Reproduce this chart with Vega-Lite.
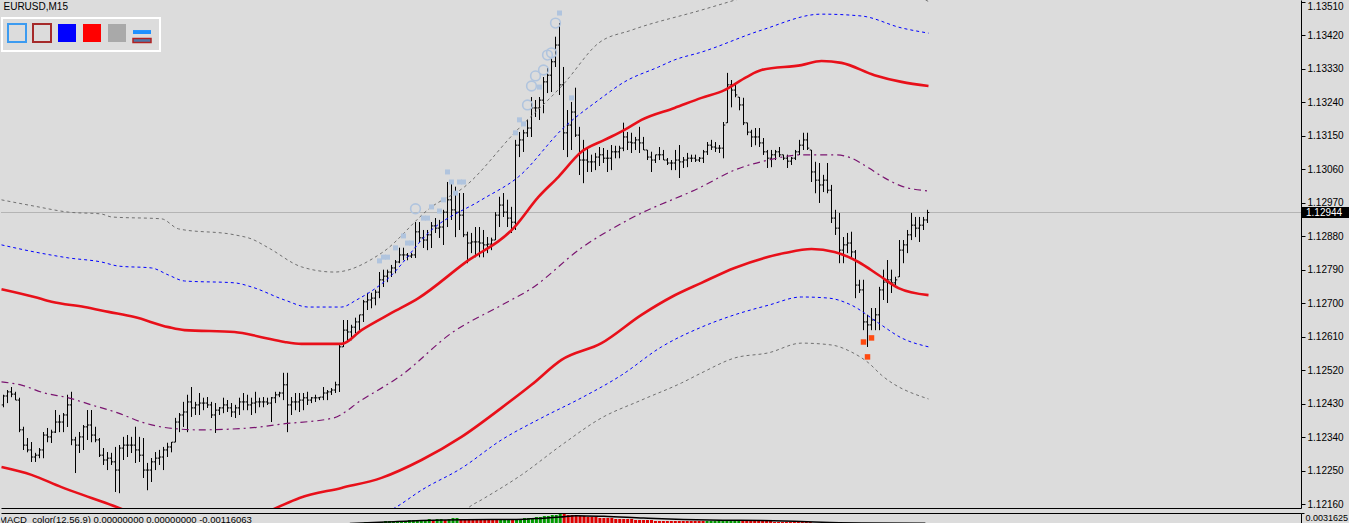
{
"$schema":"https://vega.github.io/schema/vega-lite/v6.json",
"background":"#DCDCDC",
"padding":0,
"spacing":2,
"config":{"view":{"stroke":null},"axis":{"labelFont":"Liberation Sans","labelOverlap":false}},
"datasets":{
"bars":[
{"i":0,"o":1.12427,"h":1.12454,"l":1.12421,"c":1.12451},{"i":1,"o":1.12451,"h":1.12467,"l":1.12432,"c":1.12462},{"i":2,"o":1.12462,"h":1.12475,"l":1.12448,"c":1.12456},{"i":3,"o":1.12456,"h":1.12462,"l":1.1244,"c":1.1244},{"i":4,"o":1.1244,"h":1.12446,"l":1.12354,"c":1.1236},{"i":5,"o":1.1236,"h":1.12368,"l":1.12306,"c":1.12319},{"i":6,"o":1.12319,"h":1.12338,"l":1.123,"c":1.12306},{"i":7,"o":1.12306,"h":1.12327,"l":1.12274,"c":1.12287},{"i":8,"o":1.12287,"h":1.12298,"l":1.12274,"c":1.12292},{"i":9,"o":1.12292,"h":1.12311,"l":1.12284,"c":1.12306},
{"i":10,"o":1.12306,"h":1.12354,"l":1.12284,"c":1.12346},{"i":11,"o":1.12346,"h":1.12365,"l":1.12327,"c":1.12341},{"i":12,"o":1.12341,"h":1.1236,"l":1.12325,"c":1.12354},{"i":13,"o":1.12354,"h":1.12413,"l":1.12352,"c":1.12381},{"i":14,"o":1.12381,"h":1.124,"l":1.12354,"c":1.12381},{"i":15,"o":1.12381,"h":1.12405,"l":1.12354,"c":1.124},{"i":16,"o":1.124,"h":1.12454,"l":1.12368,"c":1.12427},{"i":17,"o":1.12427,"h":1.12462,"l":1.12319,"c":1.12333},{"i":18,"o":1.12333,"h":1.12341,"l":1.12244,"c":1.12319},{"i":19,"o":1.12319,"h":1.12354,"l":1.12298,"c":1.12341},
{"i":20,"o":1.12341,"h":1.12373,"l":1.12306,"c":1.12368},{"i":21,"o":1.12368,"h":1.12413,"l":1.12333,"c":1.12373},{"i":22,"o":1.12373,"h":1.12413,"l":1.12327,"c":1.12346},{"i":23,"o":1.12346,"h":1.12368,"l":1.12327,"c":1.12333},{"i":24,"o":1.12333,"h":1.12338,"l":1.12287,"c":1.12292},{"i":25,"o":1.12292,"h":1.12311,"l":1.12266,"c":1.12279},{"i":26,"o":1.12279,"h":1.123,"l":1.12252,"c":1.12284},{"i":27,"o":1.12284,"h":1.12298,"l":1.12266,"c":1.12274},{"i":28,"o":1.12274,"h":1.12314,"l":1.12193,"c":1.12252},{"i":29,"o":1.12252,"h":1.12319,"l":1.1219,"c":1.12311},
{"i":30,"o":1.12311,"h":1.12341,"l":1.12279,"c":1.12319},{"i":31,"o":1.12319,"h":1.12346,"l":1.12287,"c":1.12319},{"i":32,"o":1.12319,"h":1.12341,"l":1.12298,"c":1.12319},{"i":33,"o":1.12319,"h":1.12368,"l":1.12271,"c":1.12306},{"i":34,"o":1.12306,"h":1.12341,"l":1.12274,"c":1.12292},{"i":35,"o":1.12292,"h":1.12338,"l":1.12231,"c":1.12252},{"i":36,"o":1.12252,"h":1.12271,"l":1.12198,"c":1.12252},{"i":37,"o":1.12252,"h":1.12284,"l":1.1222,"c":1.12274},{"i":38,"o":1.12274,"h":1.123,"l":1.12252,"c":1.12284},{"i":39,"o":1.12284,"h":1.12306,"l":1.12266,"c":1.12287},
{"i":40,"o":1.12287,"h":1.12314,"l":1.12252,"c":1.12306},{"i":41,"o":1.12306,"h":1.12325,"l":1.12287,"c":1.12314},{"i":42,"o":1.12314,"h":1.12327,"l":1.123,"c":1.12327},{"i":43,"o":1.12327,"h":1.12392,"l":1.12327,"c":1.12381},{"i":44,"o":1.12381,"h":1.12405,"l":1.12354,"c":1.124},{"i":45,"o":1.124,"h":1.12435,"l":1.12368,"c":1.12408},{"i":46,"o":1.12408,"h":1.12454,"l":1.12354,"c":1.12435},{"i":47,"o":1.12435,"h":1.12475,"l":1.12395,"c":1.12419},{"i":48,"o":1.12419,"h":1.12435,"l":1.124,"c":1.12427},{"i":49,"o":1.12427,"h":1.12459,"l":1.124,"c":1.12432},
{"i":50,"o":1.12432,"h":1.12446,"l":1.12413,"c":1.12432},{"i":51,"o":1.12432,"h":1.12448,"l":1.12419,"c":1.12427},{"i":52,"o":1.12427,"h":1.12435,"l":1.12392,"c":1.124},{"i":53,"o":1.124,"h":1.12432,"l":1.12352,"c":1.12413},{"i":54,"o":1.12413,"h":1.12421,"l":1.124,"c":1.12419},{"i":55,"o":1.12419,"h":1.12446,"l":1.12405,"c":1.12427},{"i":56,"o":1.12427,"h":1.1244,"l":1.12408,"c":1.12419},{"i":57,"o":1.12419,"h":1.12432,"l":1.12395,"c":1.12408},{"i":58,"o":1.12408,"h":1.12427,"l":1.12392,"c":1.12419},{"i":59,"o":1.12419,"h":1.12446,"l":1.124,"c":1.12435},
{"i":60,"o":1.12435,"h":1.12459,"l":1.12413,"c":1.12435},{"i":61,"o":1.12435,"h":1.12454,"l":1.12413,"c":1.12427},{"i":62,"o":1.12427,"h":1.12446,"l":1.124,"c":1.12432},{"i":63,"o":1.12432,"h":1.12462,"l":1.12405,"c":1.12435},{"i":64,"o":1.12435,"h":1.12446,"l":1.12421,"c":1.12435},{"i":65,"o":1.12435,"h":1.12448,"l":1.12421,"c":1.12435},{"i":66,"o":1.12435,"h":1.12446,"l":1.12427,"c":1.12432},{"i":67,"o":1.12432,"h":1.12448,"l":1.12381,"c":1.12446},{"i":68,"o":1.12446,"h":1.12462,"l":1.12432,"c":1.12454},{"i":69,"o":1.12454,"h":1.12462,"l":1.12448,"c":1.12459},
{"i":70,"o":1.12459,"h":1.12513,"l":1.1244,"c":1.12481},{"i":71,"o":1.12481,"h":1.12513,"l":1.12354,"c":1.12427},{"i":72,"o":1.12427,"h":1.12448,"l":1.124,"c":1.12435},{"i":73,"o":1.12435,"h":1.12459,"l":1.12413,"c":1.12435},{"i":74,"o":1.12435,"h":1.12459,"l":1.12408,"c":1.1244},{"i":75,"o":1.1244,"h":1.12459,"l":1.12413,"c":1.12446},{"i":76,"o":1.12446,"h":1.12462,"l":1.12427,"c":1.1244},{"i":77,"o":1.1244,"h":1.12448,"l":1.12432,"c":1.12446},{"i":78,"o":1.12446,"h":1.12454,"l":1.12435,"c":1.12446},{"i":79,"o":1.12446,"h":1.12448,"l":1.1244,"c":1.12448},
{"i":80,"o":1.12448,"h":1.12475,"l":1.1244,"c":1.12459},{"i":81,"o":1.12459,"h":1.12467,"l":1.1244,"c":1.12462},{"i":82,"o":1.12462,"h":1.12472,"l":1.12454,"c":1.12467},{"i":83,"o":1.12467,"h":1.12489,"l":1.12459,"c":1.12481},{"i":84,"o":1.12481,"h":1.12588,"l":1.12462,"c":1.12583},{"i":85,"o":1.12583,"h":1.12655,"l":1.12583,"c":1.12628},{"i":86,"o":1.12628,"h":1.12655,"l":1.12601,"c":1.12623},{"i":87,"o":1.12623,"h":1.12642,"l":1.12601,"c":1.12636},{"i":88,"o":1.12636,"h":1.12661,"l":1.1262,"c":1.1265},{"i":89,"o":1.1265,"h":1.12669,"l":1.12628,"c":1.12669},
{"i":90,"o":1.12669,"h":1.12709,"l":1.1265,"c":1.12704},{"i":91,"o":1.12704,"h":1.12728,"l":1.12682,"c":1.12709},{"i":92,"o":1.12709,"h":1.12728,"l":1.12687,"c":1.12714},{"i":93,"o":1.12714,"h":1.12736,"l":1.12695,"c":1.1273},{"i":94,"o":1.1273,"h":1.12784,"l":1.12714,"c":1.12763},{"i":95,"o":1.12763,"h":1.1279,"l":1.12744,"c":1.12773},{"i":96,"o":1.12773,"h":1.1279,"l":1.12757,"c":1.12784},{"i":97,"o":1.12784,"h":1.12803,"l":1.12771,"c":1.12795},{"i":98,"o":1.12795,"h":1.12816,"l":1.12781,"c":1.12811},{"i":99,"o":1.12811,"h":1.12849,"l":1.12808,"c":1.1283},
{"i":100,"o":1.1283,"h":1.12849,"l":1.12816,"c":1.1283},{"i":101,"o":1.1283,"h":1.12835,"l":1.12816,"c":1.12827},{"i":102,"o":1.12827,"h":1.12835,"l":1.12822,"c":1.1283},{"i":103,"o":1.1283,"h":1.12918,"l":1.12822,"c":1.12892},{"i":104,"o":1.12892,"h":1.12918,"l":1.12865,"c":1.12876},{"i":105,"o":1.12876,"h":1.12897,"l":1.12849,"c":1.1287},{"i":106,"o":1.1287,"h":1.12897,"l":1.12843,"c":1.12884},{"i":107,"o":1.12884,"h":1.12918,"l":1.12849,"c":1.12908},{"i":108,"o":1.12908,"h":1.12929,"l":1.12889,"c":1.12902},{"i":109,"o":1.12902,"h":1.12924,"l":1.12876,"c":1.12905},
{"i":110,"o":1.12905,"h":1.12951,"l":1.12857,"c":1.12945},{"i":111,"o":1.12945,"h":1.13026,"l":1.12905,"c":1.12978},{"i":112,"o":1.12978,"h":1.13026,"l":1.12924,"c":1.12951},{"i":113,"o":1.12951,"h":1.13013,"l":1.12878,"c":1.12945},{"i":114,"o":1.12945,"h":1.12996,"l":1.12897,"c":1.12937},{"i":115,"o":1.12937,"h":1.12996,"l":1.12878,"c":1.12884},{"i":116,"o":1.12884,"h":1.12892,"l":1.12808,"c":1.12862},{"i":117,"o":1.12862,"h":1.12889,"l":1.12835,"c":1.12865},{"i":118,"o":1.12865,"h":1.12905,"l":1.12824,"c":1.12865},{"i":119,"o":1.12865,"h":1.12905,"l":1.12824,"c":1.12862},
{"i":120,"o":1.12862,"h":1.12897,"l":1.12824,"c":1.12857},{"i":121,"o":1.12857,"h":1.12878,"l":1.12835,"c":1.12859},{"i":122,"o":1.12859,"h":1.12876,"l":1.12843,"c":1.1287},{"i":123,"o":1.1287,"h":1.12945,"l":1.1287,"c":1.12937},{"i":124,"o":1.12937,"h":1.12986,"l":1.12905,"c":1.12964},{"i":125,"o":1.12964,"h":1.12996,"l":1.12932,"c":1.12945},{"i":126,"o":1.12945,"h":1.12978,"l":1.12905,"c":1.12929},{"i":127,"o":1.12929,"h":1.12959,"l":1.12889,"c":1.12918},{"i":128,"o":1.12918,"h":1.13139,"l":1.12897,"c":1.13125},{"i":129,"o":1.13125,"h":1.1316,"l":1.13093,"c":1.13139},
{"i":130,"o":1.13139,"h":1.13166,"l":1.13107,"c":1.13158},{"i":131,"o":1.13158,"h":1.13193,"l":1.13147,"c":1.13171},{"i":132,"o":1.13171,"h":1.13254,"l":1.13147,"c":1.13225},{"i":133,"o":1.13225,"h":1.13246,"l":1.13201,"c":1.13225},{"i":134,"o":1.13225,"h":1.13254,"l":1.13193,"c":1.13246},{"i":135,"o":1.13246,"h":1.13308,"l":1.13211,"c":1.13295},{"i":136,"o":1.13295,"h":1.13332,"l":1.13265,"c":1.13313},{"i":137,"o":1.13313,"h":1.13359,"l":1.13268,"c":1.13349},{"i":138,"o":1.13349,"h":1.13416,"l":1.13335,"c":1.13394},{"i":139,"o":1.13394,"h":1.13453,"l":1.1326,"c":1.13287},
{"i":140,"o":1.13287,"h":1.13335,"l":1.13112,"c":1.13158},{"i":141,"o":1.13158,"h":1.13219,"l":1.13093,"c":1.13179},{"i":142,"o":1.13179,"h":1.13241,"l":1.13112,"c":1.13214},{"i":143,"o":1.13214,"h":1.13279,"l":1.13147,"c":1.13152},{"i":144,"o":1.13152,"h":1.13174,"l":1.13045,"c":1.13085},{"i":145,"o":1.13085,"h":1.13139,"l":1.13023,"c":1.13085},{"i":146,"o":1.13085,"h":1.1312,"l":1.13053,"c":1.1308},{"i":147,"o":1.1308,"h":1.13099,"l":1.13053,"c":1.1308},{"i":148,"o":1.1308,"h":1.13104,"l":1.13058,"c":1.13093},{"i":149,"o":1.13093,"h":1.1312,"l":1.13069,"c":1.13099},
{"i":150,"o":1.13099,"h":1.13117,"l":1.13077,"c":1.1309},{"i":151,"o":1.1309,"h":1.13112,"l":1.13053,"c":1.1309},{"i":152,"o":1.1309,"h":1.13125,"l":1.13058,"c":1.13107},{"i":153,"o":1.13107,"h":1.13123,"l":1.1309,"c":1.13107},{"i":154,"o":1.13107,"h":1.13123,"l":1.1309,"c":1.13117},{"i":155,"o":1.13117,"h":1.13185,"l":1.13109,"c":1.13147},{"i":156,"o":1.13147,"h":1.1316,"l":1.13112,"c":1.13133},{"i":157,"o":1.13133,"h":1.13158,"l":1.13104,"c":1.13131},{"i":158,"o":1.13131,"h":1.13147,"l":1.13112,"c":1.13139},{"i":159,"o":1.13139,"h":1.13174,"l":1.13104,"c":1.13131},
{"i":160,"o":1.13131,"h":1.13147,"l":1.13112,"c":1.13112},{"i":161,"o":1.13112,"h":1.13112,"l":1.13085,"c":1.13093},{"i":162,"o":1.13093,"h":1.13107,"l":1.13053,"c":1.13085},{"i":163,"o":1.13085,"h":1.13099,"l":1.13077,"c":1.13099},{"i":164,"o":1.13099,"h":1.1312,"l":1.13085,"c":1.13099},{"i":165,"o":1.13099,"h":1.13112,"l":1.13085,"c":1.13085},{"i":166,"o":1.13085,"h":1.1309,"l":1.13072,"c":1.13077},{"i":167,"o":1.13077,"h":1.13085,"l":1.13058,"c":1.13077},{"i":168,"o":1.13077,"h":1.13112,"l":1.13058,"c":1.13085},{"i":169,"o":1.13085,"h":1.13125,"l":1.13037,"c":1.1308},
{"i":170,"o":1.1308,"h":1.13093,"l":1.13064,"c":1.13085},{"i":171,"o":1.13085,"h":1.13104,"l":1.13066,"c":1.1309},{"i":172,"o":1.1309,"h":1.13099,"l":1.1308,"c":1.1309},{"i":173,"o":1.1309,"h":1.13099,"l":1.1308,"c":1.13085},{"i":174,"o":1.13085,"h":1.13093,"l":1.1308,"c":1.1309},{"i":175,"o":1.1309,"h":1.13112,"l":1.13077,"c":1.13107},{"i":176,"o":1.13107,"h":1.13133,"l":1.13099,"c":1.13125},{"i":177,"o":1.13125,"h":1.13139,"l":1.13112,"c":1.1312},{"i":178,"o":1.1312,"h":1.13133,"l":1.13107,"c":1.13117},{"i":179,"o":1.13117,"h":1.13125,"l":1.13104,"c":1.13117},
{"i":180,"o":1.13117,"h":1.13187,"l":1.1309,"c":1.13179},{"i":181,"o":1.13185,"h":1.13319,"l":1.13185,"c":1.13287},{"i":182,"o":1.13287,"h":1.133,"l":1.13227,"c":1.13273},{"i":183,"o":1.13273,"h":1.13292,"l":1.13254,"c":1.1326},{"i":184,"o":1.13254,"h":1.13254,"l":1.13219,"c":1.13233},{"i":185,"o":1.13233,"h":1.13252,"l":1.13179,"c":1.13185},{"i":186,"o":1.13185,"h":1.13185,"l":1.13152,"c":1.1316},{"i":187,"o":1.1316,"h":1.13166,"l":1.1312,"c":1.13147},{"i":188,"o":1.13147,"h":1.13171,"l":1.13125,"c":1.13147},{"i":189,"o":1.13147,"h":1.13171,"l":1.1312,"c":1.13131},
{"i":190,"o":1.13131,"h":1.13144,"l":1.13099,"c":1.13107},{"i":191,"o":1.13107,"h":1.13112,"l":1.13064,"c":1.1309},{"i":192,"o":1.1309,"h":1.13112,"l":1.13066,"c":1.13099},{"i":193,"o":1.13099,"h":1.13112,"l":1.13085,"c":1.13107},{"i":194,"o":1.13107,"h":1.1312,"l":1.13093,"c":1.13099},{"i":195,"o":1.13099,"h":1.13099,"l":1.13085,"c":1.1309},{"i":196,"o":1.1309,"h":1.13099,"l":1.13064,"c":1.13082},{"i":197,"o":1.13082,"h":1.13093,"l":1.13072,"c":1.1309},{"i":198,"o":1.1309,"h":1.13112,"l":1.13085,"c":1.13107},{"i":199,"o":1.13107,"h":1.13139,"l":1.13099,"c":1.13125},
{"i":200,"o":1.13125,"h":1.13158,"l":1.13112,"c":1.13139},{"i":201,"o":1.13139,"h":1.13158,"l":1.13112,"c":1.13117},{"i":202,"o":1.13112,"h":1.13112,"l":1.13026,"c":1.13053},{"i":203,"o":1.13053,"h":1.1308,"l":1.12996,"c":1.13031},{"i":204,"o":1.13031,"h":1.13077,"l":1.1297,"c":1.13018},{"i":205,"o":1.13018,"h":1.13045,"l":1.12999,"c":1.13031},{"i":206,"o":1.13031,"h":1.13077,"l":1.12996,"c":1.13004},{"i":207,"o":1.13004,"h":1.13018,"l":1.12916,"c":1.12929},{"i":208,"o":1.12929,"h":1.12951,"l":1.12884,"c":1.12902},{"i":209,"o":1.12902,"h":1.12943,"l":1.12808,"c":1.12843},
{"i":210,"o":1.12843,"h":1.12878,"l":1.12808,"c":1.12857},{"i":211,"o":1.12857,"h":1.12889,"l":1.12835,"c":1.12862},{"i":212,"o":1.12862,"h":1.12892,"l":1.12824,"c":1.12838},{"i":213,"o":1.12838,"h":1.12843,"l":1.12714,"c":1.12749},{"i":214,"o":1.12749,"h":1.12763,"l":1.12728,"c":1.12736},{"i":215,"o":1.12736,"h":1.12763,"l":1.12628,"c":1.1265},{"i":216,"o":1.1265,"h":1.12669,"l":1.12583,"c":1.12642},{"i":217,"o":1.12642,"h":1.12687,"l":1.12628,"c":1.12655},{"i":218,"o":1.12655,"h":1.12687,"l":1.12628,"c":1.12669},{"i":219,"o":1.12669,"h":1.12744,"l":1.12628,"c":1.12736},
{"i":220,"o":1.12736,"h":1.1279,"l":1.12709,"c":1.12757},{"i":221,"o":1.12757,"h":1.12816,"l":1.12701,"c":1.12763},{"i":222,"o":1.12763,"h":1.1279,"l":1.12728,"c":1.12755},{"i":223,"o":1.12755,"h":1.12771,"l":1.12744,"c":1.12763},{"i":224,"o":1.12771,"h":1.1287,"l":1.12771,"c":1.12843},{"i":225,"o":1.12843,"h":1.1287,"l":1.12808,"c":1.12857},{"i":226,"o":1.12857,"h":1.12897,"l":1.12835,"c":1.12884},{"i":227,"o":1.12884,"h":1.12943,"l":1.1287,"c":1.1291},{"i":228,"o":1.1291,"h":1.12932,"l":1.12878,"c":1.12902},{"i":229,"o":1.12902,"h":1.12932,"l":1.12865,"c":1.1291},
{"i":230,"o":1.1291,"h":1.12932,"l":1.12897,"c":1.12924},{"i":231,"o":1.12924,"h":1.12951,"l":1.12916,"c":1.12944}
],
"r1":[{"t":-0.5,"p":1.12738},{"t":7.75,"p":1.12717},{"t":12,"p":1.12704},{"t":20.25,"p":1.1269},{"t":26.25,"p":1.12677},{"t":32.75,"p":1.12663},{"t":41.25,"p":1.12636},{"t":45.25,"p":1.12628},{"t":57.75,"p":1.12623},{"t":64.5,"p":1.12609},{"t":70.25,"p":1.12596},{"t":74.5,"p":1.12591},{"t":84.5,"p":1.12591},{"t":89.5,"p":1.12628},{"t":97,"p":1.12674},{"t":103.75,"p":1.12714},{"t":115.25,"p":1.12808},{"t":127.75,"p":1.12905},{"t":133.75,"p":1.12986},{"t":138.75,"p":1.1304},{"t":144.5,"p":1.13107},{"t":150.25,"p":1.13139},{"t":155.25,"p":1.13166},{"t":159.5,"p":1.13193},{"t":167.75,"p":1.13225},{"t":174.5,"p":1.13252},{"t":180.25,"p":1.13273},{"t":185.75,"p":1.13308},{"t":189.5,"p":1.13327},{"t":199.5,"p":1.1334},{"t":204.5,"p":1.13351},{"t":209.5,"p":1.13346},{"t":217.75,"p":1.13313},{"t":224.5,"p":1.13295},{"t":231.25,"p":1.13284}],
"r2":[{"t":-0.5,"p":1.1226},{"t":7,"p":1.12239},{"t":14.5,"p":1.12206},{"t":22,"p":1.12177},{"t":28.25,"p":1.12153},{"t":33.25,"p":1.12131},{"t":50,"p":1.12095},{"t":62,"p":1.1212},{"t":68.75,"p":1.12153},{"t":74,"p":1.12177},{"t":84.5,"p":1.12204},{"t":94.5,"p":1.12231},{"t":104.5,"p":1.12279},{"t":114.5,"p":1.12341},{"t":124.5,"p":1.12419},{"t":132,"p":1.12481},{"t":139.5,"p":1.12548},{"t":149.5,"p":1.12593},{"t":159.5,"p":1.12669},{"t":167,"p":1.12717},{"t":174.5,"p":1.12755},{"t":182.75,"p":1.12795},{"t":195.25,"p":1.12835},{"t":202,"p":1.12846},{"t":207.75,"p":1.12838},{"t":213.75,"p":1.12811},{"t":218.75,"p":1.12776},{"t":223.75,"p":1.12741},{"t":231.25,"p":1.12722}],
"b1":[{"t":-0.5,"p":1.12857},{"t":7.75,"p":1.12838},{"t":16.25,"p":1.12822},{"t":24.5,"p":1.12811},{"t":28.75,"p":1.128},{"t":37,"p":1.12795},{"t":41.25,"p":1.12776},{"t":45.25,"p":1.1276},{"t":57.75,"p":1.12755},{"t":62,"p":1.12744},{"t":70.25,"p":1.12709},{"t":76.25,"p":1.1269},{"t":84.5,"p":1.1269},{"t":88.25,"p":1.12709},{"t":95.75,"p":1.12763},{"t":107,"p":1.12897},{"t":119.5,"p":1.12978},{"t":128.75,"p":1.1304},{"t":140.25,"p":1.13174},{"t":148.75,"p":1.13246},{"t":155.25,"p":1.13295},{"t":163.75,"p":1.13335},{"t":167.75,"p":1.13354},{"t":174.5,"p":1.13375},{"t":189.5,"p":1.13434},{"t":204.5,"p":1.13477},{"t":214.5,"p":1.13472},{"t":224.5,"p":1.1344},{"t":231.25,"p":1.13426}],
"b2":[{"t":92,"p":1.12118},{"t":98.25,"p":1.12153},{"t":104.5,"p":1.12198},{"t":114.5,"p":1.12257},{"t":124.5,"p":1.12333},{"t":134.5,"p":1.12392},{"t":144.5,"p":1.12446},{"t":154.5,"p":1.12507},{"t":164.5,"p":1.12583},{"t":174.5,"p":1.12636},{"t":182.75,"p":1.12669},{"t":191.25,"p":1.12695},{"t":199.5,"p":1.12717},{"t":206.25,"p":1.12714},{"t":212,"p":1.12695},{"t":218.75,"p":1.12647},{"t":224.5,"p":1.12607},{"t":231.25,"p":1.12583}],
"g1":[{"t":-0.5,"p":1.12978},{"t":7.75,"p":1.12961},{"t":16.25,"p":1.12945},{"t":24.5,"p":1.1294},{"t":27,"p":1.12932},{"t":39.5,"p":1.12927},{"t":43.75,"p":1.129},{"t":57.75,"p":1.12884},{"t":62,"p":1.12873},{"t":66.25,"p":1.12849},{"t":74.5,"p":1.12798},{"t":82.75,"p":1.12784},{"t":94.5,"p":1.12835},{"t":107,"p":1.12959},{"t":115.25,"p":1.13013},{"t":127.75,"p":1.13158},{"t":140.25,"p":1.13292},{"t":148.75,"p":1.13399},{"t":157,"p":1.13434},{"t":174.5,"p":1.13488},{"t":189.5,"p":1.13536},{"t":205,"p":1.13585},{"t":218,"p":1.13572},{"t":227,"p":1.13535},{"t":231.25,"p":1.13511}],
"g2":[{"t":113.25,"p":1.12118},{"t":116.5,"p":1.12153},{"t":119.5,"p":1.12172},{"t":129.5,"p":1.12239},{"t":139.5,"p":1.12319},{"t":149.5,"p":1.12392},{"t":159.5,"p":1.1244},{"t":169.5,"p":1.12486},{"t":174.5,"p":1.12513},{"t":182.75,"p":1.12553},{"t":191.25,"p":1.12567},{"t":199.5,"p":1.12593},{"t":207,"p":1.12588},{"t":212,"p":1.12569},{"t":216.25,"p":1.1254},{"t":219.5,"p":1.12507},{"t":231.25,"p":1.12443}],
"m":[{"t":-0.5,"p":1.12489},{"t":4.5,"p":1.1248},{"t":10.25,"p":1.12459},{"t":16.25,"p":1.12446},{"t":22,"p":1.12427},{"t":28.75,"p":1.12405},{"t":34.5,"p":1.12381},{"t":41.25,"p":1.12365},{"t":49,"p":1.1236},{"t":61.5,"p":1.12365},{"t":70,"p":1.12376},{"t":82.5,"p":1.12392},{"t":89.5,"p":1.1244},{"t":99.5,"p":1.12507},{"t":112,"p":1.1262},{"t":124.5,"p":1.12695},{"t":132,"p":1.1274},{"t":144.5,"p":1.12849},{"t":157,"p":1.12929},{"t":174.5,"p":1.13013},{"t":182.75,"p":1.13058},{"t":191.25,"p":1.13085},{"t":199.5,"p":1.13099},{"t":207.75,"p":1.13099},{"t":212,"p":1.1309},{"t":216.25,"p":1.13064},{"t":220.25,"p":1.13037},{"t":224.5,"p":1.13015},{"t":231.25,"p":1.13002}],
"sq":[{"i":139,"p":1.1348},{"i":142,"p":1.13252},{"i":134,"p":1.13281},{"i":129,"p":1.13193},{"i":130,"p":1.13182},{"i":128,"p":1.13158},{"i":111,"p":1.13053},{"i":112,"p":1.13026},{"i":114,"p":1.13026},{"i":115,"p":1.13026},{"i":113,"p":1.12996},{"i":110,"p":1.12978},{"i":107,"p":1.12959},{"i":109,"p":1.12948},{"i":105,"p":1.12929},{"i":106,"p":1.12929},{"i":100,"p":1.12881},{"i":101,"p":1.12862},{"i":102,"p":1.12862},{"i":98,"p":1.12849},{"i":95,"p":1.12824},{"i":96,"p":1.12824},{"i":94,"p":1.12814}],
"ci":[{"i":138,"p":1.13453},{"i":137,"p":1.13373},{"i":136,"p":1.13367},{"i":135,"p":1.13327},{"i":133,"p":1.13311},{"i":132,"p":1.13284},{"i":131,"p":1.13233},{"i":103,"p":1.12954}],
"os":[{"i":215,"p":1.12596},{"i":217,"p":1.12607},{"i":216,"p":1.12556}],
"cur":[{"p":1.12944,"txt":"1.12944"}],
"lbl":[{"txt":"MACD_color(12,56,9) 0.00000000 0.00000000 -0.00116063"}],
"macd":[
{"i":86,"v":0.00029,"k":"g"},{"i":87,"v":0.00029,"k":"g"},{"i":88,"v":0.00029,"k":"g"},{"i":89,"v":0.00029,"k":"g"},{"i":90,"v":0.00057,"k":"g"},{"i":91,"v":0.00057,"k":"g"},{"i":92,"v":0.00057,"k":"g"},{"i":93,"v":0.00057,"k":"g"},{"i":94,"v":0.00057,"k":"g"},{"i":95,"v":0.00086,"k":"g"},{"i":96,"v":0.00086,"k":"g"},{"i":97,"v":0.00086,"k":"g"},{"i":98,"v":0.00086,"k":"g"},{"i":99,"v":0.00086,"k":"g"},{"i":100,"v":0.00086,"k":"g"},{"i":101,"v":0.00115,"k":"g"},{"i":102,"v":0.00115,"k":"g"},{"i":103,"v":0.00115,"k":"g"},{"i":104,"v":0.00115,"k":"g"},{"i":105,"v":0.00115,"k":"g"},{"i":106,"v":0.00144,"k":"g"},{"i":107,"v":0.00115,"k":"r"},{"i":108,"v":0.00144,"k":"g"},{"i":109,"v":0.00144,"k":"g"},{"i":110,"v":0.00115,"k":"r"},{"i":111,"v":0.00144,"k":"g"},{"i":112,"v":0.00172,"k":"g"},{"i":113,"v":0.00172,"k":"g"},{"i":114,"v":0.00144,"k":"r"},{"i":115,"v":0.00144,"k":"r"},{"i":116,"v":0.00144,"k":"r"},{"i":117,"v":0.00115,"k":"r"},{"i":118,"v":0.00115,"k":"r"},{"i":119,"v":0.00115,"k":"r"},{"i":120,"v":0.00115,"k":"r"},{"i":121,"v":0.00115,"k":"r"},{"i":122,"v":0.00115,"k":"r"},{"i":123,"v":0.00115,"k":"r"},{"i":124,"v":0.00115,"k":"g"},{"i":125,"v":0.00115,"k":"g"},{"i":126,"v":0.00144,"k":"g"},{"i":127,"v":0.00115,"k":"r"},{"i":128,"v":0.00144,"k":"g"},{"i":129,"v":0.00144,"k":"g"},{"i":130,"v":0.00172,"k":"g"},{"i":131,"v":0.00172,"k":"g"},{"i":132,"v":0.00172,"k":"g"},{"i":133,"v":0.00201,"k":"g"},{"i":134,"v":0.00201,"k":"g"},{"i":135,"v":0.0023,"k":"g"},{"i":136,"v":0.0023,"k":"g"},{"i":137,"v":0.00258,"k":"g"},{"i":138,"v":0.00258,"k":"g"},{"i":139,"v":0.00287,"k":"g"},{"i":140,"v":0.00287,"k":"r"},{"i":141,"v":0.00258,"k":"r"},{"i":142,"v":0.00258,"k":"r"},{"i":143,"v":0.0023,"k":"r"},{"i":144,"v":0.0023,"k":"r"},{"i":145,"v":0.0023,"k":"r"},{"i":146,"v":0.00201,"k":"r"},{"i":147,"v":0.00201,"k":"r"},{"i":148,"v":0.00201,"k":"r"},{"i":149,"v":0.00172,"k":"r"},{"i":150,"v":0.00172,"k":"r"},{"i":151,"v":0.00172,"k":"r"},{"i":152,"v":0.00172,"k":"r"},{"i":153,"v":0.00144,"k":"r"},{"i":154,"v":0.00144,"k":"r"},{"i":155,"v":0.00144,"k":"r"},{"i":156,"v":0.00144,"k":"r"},{"i":157,"v":0.00144,"k":"r"},{"i":158,"v":0.00115,"k":"r"},{"i":159,"v":0.00115,"k":"r"},{"i":160,"v":0.00115,"k":"r"},{"i":161,"v":0.00115,"k":"r"},{"i":162,"v":0.00115,"k":"r"},{"i":163,"v":0.00086,"k":"r"},{"i":164,"v":0.00086,"k":"r"},{"i":165,"v":0.00086,"k":"r"},{"i":166,"v":0.00086,"k":"r"},{"i":167,"v":0.00086,"k":"r"},{"i":168,"v":0.00086,"k":"r"},{"i":169,"v":0.00086,"k":"r"},{"i":170,"v":0.00086,"k":"r"},{"i":171,"v":0.00086,"k":"r"},{"i":172,"v":0.00086,"k":"r"},{"i":173,"v":0.00086,"k":"r"},{"i":174,"v":0.00086,"k":"r"},{"i":175,"v":0.00086,"k":"r"},{"i":176,"v":0.00086,"k":"g"},{"i":177,"v":0.00086,"k":"g"},{"i":178,"v":0.00086,"k":"g"},{"i":179,"v":0.00115,"k":"g"},{"i":180,"v":0.00115,"k":"g"},{"i":181,"v":0.00115,"k":"g"},{"i":182,"v":0.00115,"k":"g"},{"i":183,"v":0.00115,"k":"g"},{"i":184,"v":0.00115,"k":"g"},{"i":185,"v":0.00115,"k":"r"},{"i":186,"v":0.00115,"k":"r"},{"i":187,"v":0.00086,"k":"r"},{"i":188,"v":0.00086,"k":"r"},{"i":189,"v":0.00086,"k":"r"},{"i":190,"v":0.00086,"k":"r"},{"i":191,"v":0.00086,"k":"r"},{"i":192,"v":0.00086,"k":"r"},{"i":193,"v":0.00057,"k":"r"},{"i":194,"v":0.00057,"k":"r"},{"i":195,"v":0.00057,"k":"r"},{"i":196,"v":0.00057,"k":"r"},{"i":197,"v":0.00057,"k":"r"},{"i":198,"v":0.00057,"k":"r"},{"i":199,"v":0.00057,"k":"r"},{"i":200,"v":0.00057,"k":"r"},{"i":201,"v":0.00057,"k":"r"},{"i":202,"v":0.00057,"k":"r"},{"i":203,"v":0.00029,"k":"r"},{"i":204,"v":0.00029,"k":"r"},{"i":205,"v":0.00029,"k":"r"},{"i":206,"v":0.00029,"k":"r"},{"i":207,"v":0.00029,"k":"r"},{"i":208,"v":0.00029,"k":"r"},{"i":209,"v":0.00029,"k":"r"},{"i":210,"v":0.00029,"k":"r"},{"i":211,"v":0.00029,"k":"r"},{"i":212,"v":0.00029,"k":"r"},{"i":213,"v":0.00029,"k":"r"},{"i":214,"v":0.00029,"k":"r"},{"i":215,"v":0.00029,"k":"r"},{"i":216,"v":0.00029,"k":"r"},{"i":217,"v":0.00029,"k":"r"},{"i":218,"v":0.00029,"k":"g"},{"i":219,"v":0.00029,"k":"g"},{"i":220,"v":0.00029,"k":"g"},{"i":221,"v":0.00029,"k":"g"},{"i":222,"v":0.00029,"k":"g"},{"i":223,"v":0.00029,"k":"g"},{"i":224,"v":0.00029,"k":"g"},{"i":225,"v":0.00029,"k":"g"},{"i":226,"v":0.00029,"k":"g"},{"i":227,"v":0.00029,"k":"g"},{"i":228,"v":0.00029,"k":"g"},{"i":229,"v":0.00029,"k":"g"},{"i":230,"v":0.00029,"k":"g"},{"i":231,"v":0.00029,"k":"g"}
],
"sig":[{"t":86,"v":0.00014},{"t":95,"v":0.00057},{"t":104,"v":0.001},{"t":115,"v":0.00125},{"t":128,"v":0.0013},{"t":134,"v":0.0016},{"t":139,"v":0.002},{"t":143,"v":0.0024},{"t":150,"v":0.0022},{"t":160,"v":0.0017},{"t":170,"v":0.0013},{"t":180,"v":0.0011},{"t":190,"v":0.001},{"t":198,"v":0.0008},{"t":205,"v":0.0005},{"t":215,"v":0.0003},{"t":231,"v":0.0002}]
},
"vconcat":[
{
"width":1300,"height":508,
"title":{"text":"EURUSD,M15","anchor":"start","offset":-12,"dx":3,"font":"Liberation Sans","fontSize":10,"fontWeight":"normal","color":"#000000"},
"layer":[
{"data":{"name":"bars"},"mark":{"type":"rule","color":"#000000","strokeWidth":1},
 "encoding":{
  "x":{"field":"i","type":"quantitative","scale":{"domain":[-0.625,324.375],"nice":false,"zero":false},"axis":{"orient":"bottom","labels":false,"ticks":false,"grid":false,"title":null,"domainColor":"#000000","domainWidth":1}},
  "y":{"field":"h","type":"quantitative","scale":{"domain":[1.1215,1.13515],"nice":false,"zero":false},
   "axis":{"orient":"right","values":[1.1216,1.1225,1.1234,1.1243,1.1252,1.1261,1.127,1.1279,1.1288,1.1297,1.1306,1.1315,1.1324,1.1333,1.1342,1.1351],"tickCount":40,"format":".5f","title":null,"grid":false,"domainColor":"#000000","tickColor":"#000000","tickSize":4,"labelFont":"Liberation Sans","labelFontSize":10,"labelColor":"#000000","labelPadding":2,"labelOverlap":false,"labelBound":false,"labelFlush":3}},
  "y2":{"field":"l"}}},
{"data":{"name":"cur"},"mark":{"type":"rule","color":"#B4B4B4","strokeWidth":1},"encoding":{"y":{"field":"p","type":"quantitative"}}},
{"data":{"name":"bars"},"mark":{"type":"rule","color":"#000000","strokeWidth":1},"encoding":{"x":{"field":"i","type":"quantitative"},"y":{"field":"h","type":"quantitative"},"y2":{"field":"l"}}},
{"data":{"name":"bars"},"mark":{"type":"tick","orient":"horizontal","size":1.5,"thickness":1,"xOffset":-1,"color":"#000000","opacity":1},
 "encoding":{"x":{"field":"i","type":"quantitative"},"y":{"field":"o","type":"quantitative"}}},
{"data":{"name":"bars"},"mark":{"type":"tick","orient":"horizontal","size":1.5,"thickness":1,"xOffset":1,"color":"#000000","opacity":1},
 "encoding":{"x":{"field":"i","type":"quantitative"},"y":{"field":"c","type":"quantitative"}}},
{"data":{"name":"m"},"mark":{"type":"line","clip":true,"interpolate":"monotone","color":"#7A1470","strokeWidth":1.2,"strokeDash":[7,4,2,4]},"encoding":{"x":{"field":"t","type":"quantitative"},"y":{"field":"p","type":"quantitative"}}},
{"data":{"name":"g1"},"mark":{"type":"line","clip":true,"interpolate":"monotone","color":"#707070","strokeWidth":1,"strokeDash":[3,3]},"encoding":{"x":{"field":"t","type":"quantitative"},"y":{"field":"p","type":"quantitative"}}},
{"data":{"name":"g2"},"mark":{"type":"line","clip":true,"interpolate":"monotone","color":"#707070","strokeWidth":1,"strokeDash":[3,3]},"encoding":{"x":{"field":"t","type":"quantitative"},"y":{"field":"p","type":"quantitative"}}},
{"data":{"name":"b1"},"mark":{"type":"line","clip":true,"interpolate":"monotone","color":"#0000FF","strokeWidth":1,"strokeDash":[3,3]},"encoding":{"x":{"field":"t","type":"quantitative"},"y":{"field":"p","type":"quantitative"}}},
{"data":{"name":"b2"},"mark":{"type":"line","clip":true,"interpolate":"monotone","color":"#0000FF","strokeWidth":1,"strokeDash":[3,3]},"encoding":{"x":{"field":"t","type":"quantitative"},"y":{"field":"p","type":"quantitative"}}},
{"data":{"name":"r1"},"mark":{"type":"line","clip":true,"interpolate":"monotone","color":"#E8101A","strokeWidth":2.6},"encoding":{"x":{"field":"t","type":"quantitative"},"y":{"field":"p","type":"quantitative"}}},
{"data":{"name":"r2"},"mark":{"type":"line","clip":true,"interpolate":"monotone","color":"#E8101A","strokeWidth":2.6},"encoding":{"x":{"field":"t","type":"quantitative"},"y":{"field":"p","type":"quantitative"}}},
{"data":{"name":"sq"},"mark":{"type":"point","shape":"square","filled":true,"size":25,"color":"#B0C4DE","opacity":1},"encoding":{"x":{"field":"i","type":"quantitative"},"y":{"field":"p","type":"quantitative"}}},
{"data":{"name":"ci"},"mark":{"type":"point","shape":"circle","filled":false,"size":95,"strokeWidth":1.6,"color":"#B0C4DE","opacity":1},"encoding":{"x":{"field":"i","type":"quantitative"},"y":{"field":"p","type":"quantitative"}}},
{"data":{"name":"os"},"mark":{"type":"point","shape":"square","filled":true,"size":30,"color":"#FF4A10","opacity":1},"encoding":{"x":{"field":"i","type":"quantitative"},"y":{"field":"p","type":"quantitative"}}},
{"data":{"name":"cur"},"mark":{"type":"rect","color":"#000000","height":11},"encoding":{"x":{"datum":324.5,"type":"quantitative"},"x2":{"datum":336.6},"y":{"field":"p","type":"quantitative"}}},
{"data":{"name":"cur"},"mark":{"type":"text","align":"left","baseline":"middle","dx":5,"dy":0,"color":"#FFFFFF","font":"Liberation Sans","fontSize":10},"encoding":{"x":{"datum":324.375,"type":"quantitative"},"y":{"field":"p","type":"quantitative"},"text":{"field":"txt"}}},
{"data":{"values":[]},"mark":{"type":"square"},
 "encoding":{"fill":{"field":"k","type":"nominal","scale":{"domain":["a","b","c","d","e","f"],"range":["transparent","transparent","#0000FF","#FF0000","#A9A9A9","#1E90FF"]},
  "legend":{"orient":"none","legendX":1,"legendY":18,"direction":"horizontal","columns":6,"title":null,"labelExpr":"''","labelOffset":0,"labelFontSize":1,"columnPadding":-1,"rowPadding":0,"symbolSize":324,"symbolType":"square","symbolStrokeWidth":2,"symbolOpacity":1,"padding":5,"strokeColor":"#FFFFFF",
   "encode":{"legend":{"update":{"strokeWidth":{"value":2}}},
    "symbols":{"update":{"stroke":{"signal":"datum.value==='a'?'#3C9BF0':datum.value==='b'?'#A52A2A':'transparent'"},"shape":{"signal":"datum.value==='f'?'M-1,-1.05H1V-0.61H-1Z':'square'"}}}}}}}},
{"data":{"values":[]},"mark":{"type":"square"},
 "encoding":{"stroke":{"field":"k2","type":"nominal","scale":{"domain":["g"],"range":["#B22222"]},
  "legend":{"orient":"none","legendX":131,"legendY":23,"title":null,"labelExpr":"''","labelOffset":0,"labelFontSize":1,"padding":0,"symbolSize":324,"symbolType":"M-1,0.61H1V1.05H-1Z","symbolOpacity":1,
   "encode":{"symbols":{"update":{"fill":{"value":"#B22222"},"strokeWidth":{"value":0}}}}}}}}
]
},
{
"width":1300,"height":13,
"layer":[
{"data":{"name":"macd"},"mark":{"type":"bar","size":3,"clip":true},
 "encoding":{
  "x":{"field":"i","type":"quantitative","scale":{"domain":[-0.625,324.375],"nice":false,"zero":false},"axis":{"orient":"top","labels":false,"ticks":false,"grid":false,"title":null,"domainColor":"#000000"}},
  "y":{"field":"v","type":"quantitative","scale":{"domain":[-0.000575,0.0031625],"nice":false,"zero":false},
   "axis":{"orient":"right","values":[0.0031625],"format":".7f","title":null,"grid":false,"domainColor":"#000000","tickColor":"#000000","tickSize":3,"labelFont":"Liberation Sans","labelFontSize":9,"labelColor":"#000000","labelPadding":1,"labelFlush":true,"labelOverlap":false}},
  "color":{"field":"k","type":"nominal","scale":{"domain":["g","r"],"range":["#009A00","#E00000"]},"legend":null}}},
{"data":{"name":"sig"},"mark":{"type":"line","clip":true,"interpolate":"monotone","color":"#000000","strokeWidth":1.5},"encoding":{"x":{"field":"t","type":"quantitative"},"y":{"field":"v","type":"quantitative"}}},
{"data":{"name":"lbl"},"mark":{"type":"rule","color":"#000000","strokeWidth":1.5},"encoding":{"y":{"datum":0,"type":"quantitative"}}},
{"data":{"name":"lbl"},"mark":{"type":"text","clip":true,"align":"left","baseline":"alphabetic","dx":-7,"dy":-1,"color":"#000000","font":"Liberation Sans","fontSize":9.5},"encoding":{"x":{"datum":-0.625,"type":"quantitative"},"y":{"datum":0,"type":"quantitative"},"text":{"field":"txt"}}}
]
}
]
}
